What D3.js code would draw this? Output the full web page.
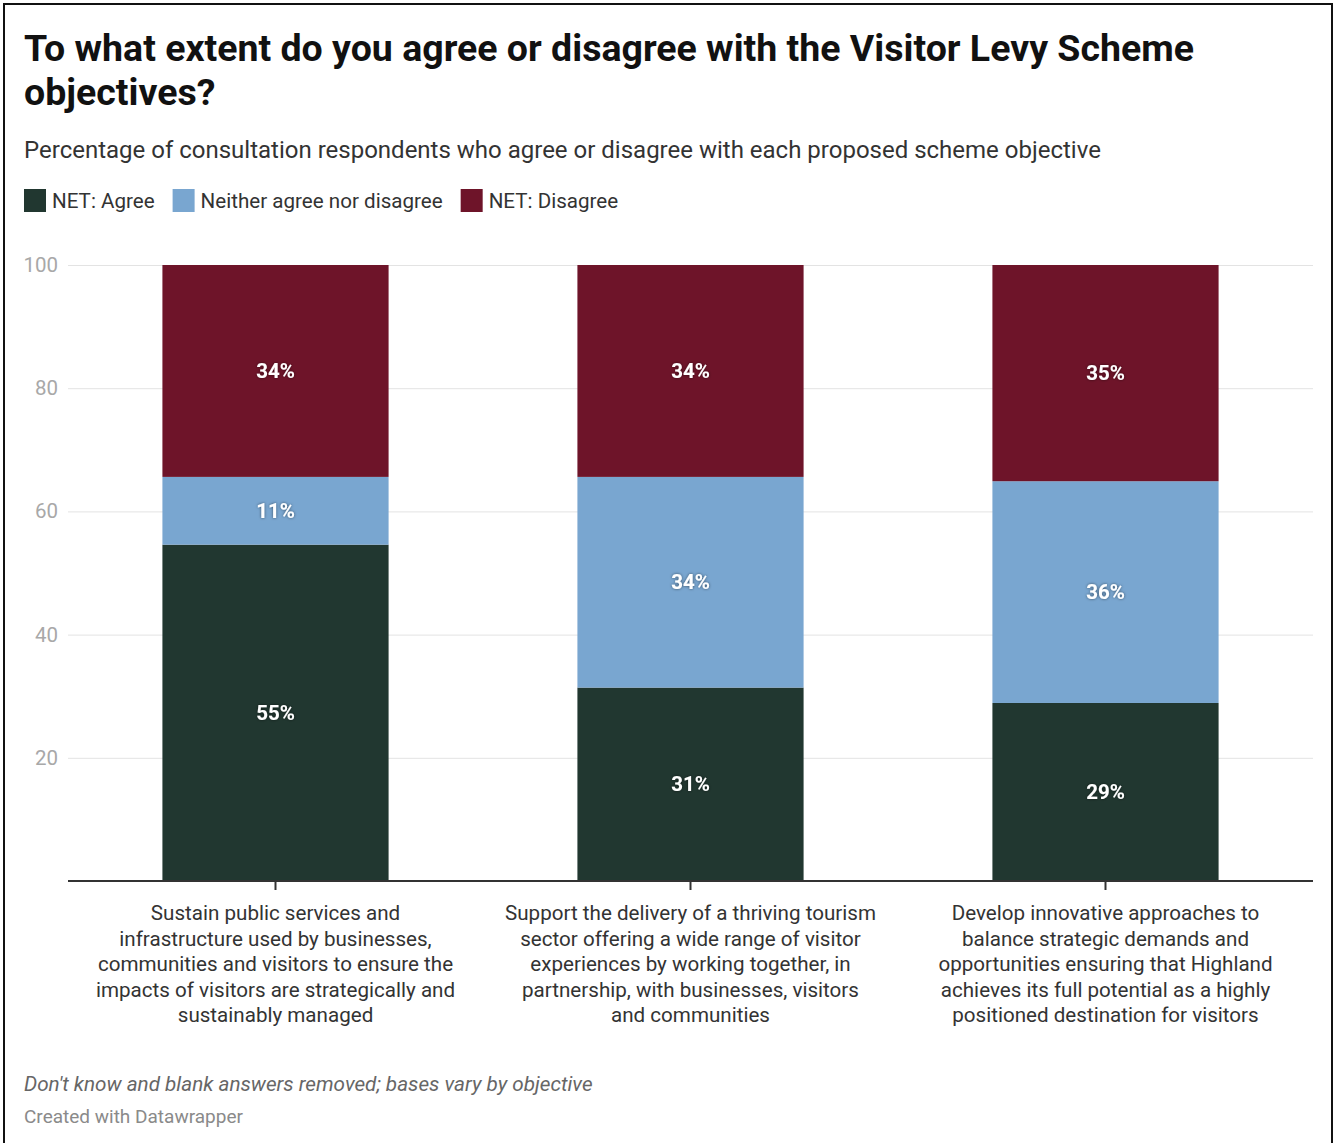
<!DOCTYPE html>
<html>
<head>
<meta charset="utf-8">
<script src="https://cdn.jsdelivr.net/npm/d3@7"></script>
<style>
  html, body { margin: 0; padding: 0; background: #fff; }
  body { width: 1339px; height: 1143px; overflow: hidden; }
  svg { display: block; font-family: Roboto, "Noto Sans", sans-serif; }
</style>
</head>
<body>
<svg id="chart" width="1339" height="1143"></svg>
<script>
// Objectives (x-axis categories), with line breaks as shown under each bar
const categories = [
  "Sustain public services and\ninfrastructure used by businesses,\ncommunities and visitors to ensure the\nimpacts of visitors are strategically and\nsustainably managed",
  "Support the delivery of a thriving tourism\nsector offering a wide range of visitor\nexperiences by working together, in\npartnership, with businesses, visitors\nand communities",
  "Develop innovative approaches to\nbalance strategic demands and\nopportunities ensuring that Highland\nachieves its full potential as a highly\npositioned destination for visitors"
];

// Series (percent of respondents)
const seriesNames = ["NET: Agree", "Neither agree nor disagree", "NET: Disagree"];
const agree    = [54.6, 31.4, 28.9];
const neither  = [11.0, 34.2, 36.0];
const disagree = [34.4, 34.4, 35.1];

const yTicks = [20, 40, 60, 80, 100];
const colors = ["#213730", "#79a6d0", "#6e1429"];

const titleLines = [
  "To what extent do you agree or disagree with the Visitor Levy Scheme",
  "objectives?"
];
const subtitle = "Percentage of consultation respondents who agree or disagree with each proposed scheme objective";
const note = "Don't know and blank answers removed; bases vary by objective";
const credit = "Created with Datawrapper";

const svg = d3.select("#chart");

// frame
svg.append("rect")
  .attr("x", 4).attr("y", 4).attr("width", 1328).attr("height", 1150)
  .attr("fill", "none").attr("stroke", "#111").attr("stroke-width", 2);

// drop shadow for value labels
const defs = svg.append("defs");
const f = defs.append("filter").attr("id", "lblShadow")
  .attr("x", "-20%").attr("y", "-40%").attr("width", "140%").attr("height", "180%");
f.append("feDropShadow").attr("dx", 0).attr("dy", 0).attr("stdDeviation", 1.6)
  .attr("flood-color", "#000").attr("flood-opacity", 0.55);

// header
svg.append("text")
  .attr("x", 24).attr("y", 61)
  .attr("font-size", 37.5).attr("font-weight", 700).attr("fill", "#111")
  .selectAll("tspan").data(titleLines).join("tspan")
  .attr("x", 24).attr("dy", (d, i) => i ? 44 : 0).text(d => d);

svg.append("text")
  .attr("x", 24).attr("y", 158)
  .attr("font-size", 24).attr("fill", "#333").text(subtitle);

// legend
const legend = svg.append("g").attr("transform", "translate(24,189)");
let lx = 0;
seriesNames.forEach((name, i) => {
  const g = legend.append("g").attr("transform", `translate(${lx},0)`);
  g.append("rect").attr("width", 22).attr("height", 23).attr("fill", colors[i]);
  const t = g.append("text").attr("x", 28).attr("y", 18.5)
    .attr("font-size", 20.6).attr("fill", "#333").text(name);
  lx += 28 + t.node().getComputedTextLength() + 18;
});

// plot area
const margin = { left: 68, right: 1313, top: 265, bottom: 881 };

const x = d3.scaleBand()
  .domain(d3.range(categories.length))
  .range([margin.left, margin.right])
  .paddingInner(0.455)
  .paddingOuter(0.2275);

const y = d3.scaleLinear().domain([0, 100]).range([margin.bottom, margin.top]);

// gridlines + y tick labels
const yAxis = d3.axisLeft(y).tickValues(yTicks)
  .tickSize(-(margin.right - margin.left)).tickPadding(10);
const ya = svg.append("g").attr("transform", `translate(${margin.left},0)`).call(yAxis);
ya.select(".domain").remove();
ya.selectAll(".tick line").attr("stroke", "#e3e3e3").attr("stroke-width", 1);
ya.selectAll(".tick text")
  .attr("font-size", 20.5).attr("fill", "#a8a8a8")
  .attr("font-family", "Roboto, sans-serif");

// stacked bars
const rows = categories.map((c, i) => ({ i, agree: agree[i], neither: neither[i], disagree: disagree[i] }));
const keys = ["agree", "neither", "disagree"];
const stack = d3.stack().keys(keys)(rows);

const layers = svg.append("g").selectAll("g").data(stack).join("g")
  .attr("fill", (d, i) => colors[i]);

layers.selectAll("rect").data(d => d).join("rect")
  .attr("x", d => x(d.data.i))
  .attr("width", x.bandwidth())
  .attr("y", d => y(d[1]))
  .attr("height", d => y(d[0]) - y(d[1]));

// value labels
const fmt = v => Math.round(v) + "%";
const labels = svg.append("g");
stack.forEach(layer => {
  layer.forEach(d => {
    labels.append("text")
      .attr("x", x(d.data.i) + x.bandwidth() / 2)
      .attr("y", (y(d[0]) + y(d[1])) / 2)
      .attr("dy", "0.35em")
      .attr("text-anchor", "middle")
      .attr("font-size", 20.5).attr("font-weight", 700)
      .attr("fill", "#fff")
      .attr("filter", "url(#lblShadow)")
      .text(fmt(d[1] - d[0]));
  });
});

// x axis
const xAxis = d3.axisBottom(x).tickSize(9).tickFormat("");
const xa = svg.append("g").attr("transform", `translate(0,${margin.bottom})`).call(xAxis);
xa.select(".domain").attr("stroke", "#333").attr("stroke-width", 2)
  .attr("d", `M${margin.left},0H${margin.right}`);
xa.selectAll(".tick line").attr("stroke", "#333").attr("stroke-width", 2);

// wrapped category labels
categories.forEach((c, i) => {
  const lines = c.split("\n");
  svg.append("text")
    .attr("text-anchor", "middle")
    .attr("font-size", 20.6).attr("fill", "#333")
    .selectAll("tspan").data(lines).join("tspan")
    .attr("x", x(i) + x.bandwidth() / 2)
    .attr("y", (d, k) => 920 + k * 25.5)
    .text(d => d);
});

// footer
svg.append("text").attr("x", 24).attr("y", 1091)
  .attr("font-size", 20.7).attr("font-style", "italic").attr("fill", "#666").text(note);
svg.append("text").attr("x", 24).attr("y", 1123)
  .attr("font-size", 19).attr("fill", "#8a8a8a").text(credit);
</script>
</body>
</html>
